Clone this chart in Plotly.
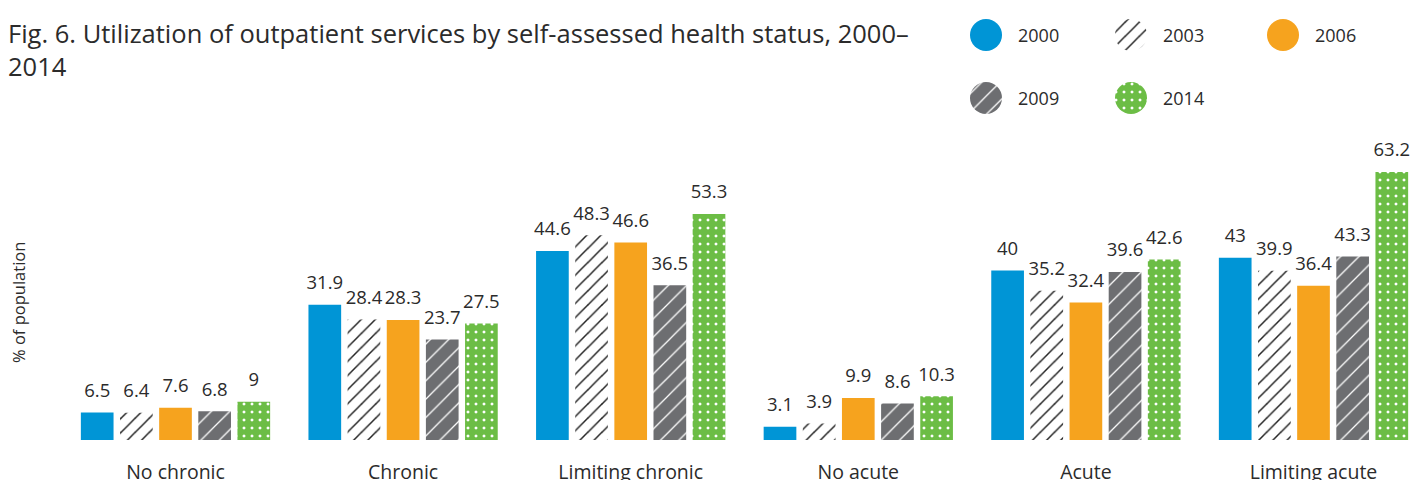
import plotly.graph_objects as go

categories = ["No chronic", "Chronic", "Limiting chronic", "No acute", "Acute", "Limiting acute"]
years = ["2000", "2003", "2006", "2009", "2014"]
v2000 = [6.5, 31.9, 44.6, 3.1, 40, 43]
v2003 = [6.4, 28.4, 48.3, 3.9, 35.2, 39.9]
v2006 = [7.6, 28.3, 46.6, 9.9, 32.4, 36.4]
v2009 = [6.8, 23.7, 36.5, 8.6, 39.6, 43.3]
v2014 = [9, 27.5, 53.3, 10.3, 42.6, 63.2]
series = [v2000, v2003, v2006, v2009, v2014]

BLUE = "#0095d6"
ORANGE = "#f6a31e"
GRAY = "#6d6e71"
GREEN = "#6cbd45"
TXT = "#2b2b2b"
FONT = "Open Sans"

markers = [
    dict(color=BLUE),
    dict(color="white", pattern=dict(shape="/", fgcolor="#222222", bgcolor="white", size=10, solidity=0.15, fillmode="replace")),
    dict(color=ORANGE),
    dict(color=GRAY, pattern=dict(shape="/", fgcolor="white", bgcolor=GRAY, size=13, solidity=0.1, fillmode="replace")),
    dict(color=GREEN, pattern=dict(shape=".", fgcolor="white", bgcolor=GREEN, size=8, solidity=0.11, fillmode="replace")),
]

# page has an 8px body margin: figure occupies page px (8..1418, 8..480)
OFF = 8
W, H = 1418 - OFF, 480 - OFF
MB = 40
PH = H - MB  # plot height in px (t=0)
PX_PER_UNIT = 4.24
ymax = PH / PX_PER_UNIT
cat_px = 227.6
first_center = 175.5
x0 = -(first_center - OFF) / cat_px
x1 = x0 + W / cat_px
BARGAP = 0.14

def px(xp):
    return (xp - OFF) / W

def py(yp):
    return (PH - (yp - OFF)) / PH

fig = go.Figure()
for name, vals, mk in zip(years, series, markers):
    m = dict(mk)
    m["line"] = dict(width=0)
    fig.add_trace(go.Bar(
        x=categories, y=vals, name=name, marker=m, offsetgroup=name,
        hoverinfo="x+y", showlegend=False, cliponaxis=False,
    ))
# value labels, grouped to sit over their bars
for name, vals in zip(years, series):
    fig.add_trace(go.Scatter(
        x=categories, y=vals, mode="text+markers", offsetgroup=name,
        marker=dict(size=16, opacity=0), text=[f"{v:g}" for v in vals],
        textposition="top center", cliponaxis=False,
        textfont=dict(family=FONT, size=18.5, color=TXT),
        hoverinfo="skip", showlegend=False,
    ))

# legend: pies as circles (support patterns)
leg = [(986, 35), (1131, 35), (1283, 35), (986, 98), (1131, 98)]
R = 16
for (cx, cy), name, mk in zip(leg, years, markers):
    m = dict(mk)
    col = m.pop("color")
    pie_marker = dict(colors=[col], line=dict(width=0))
    if "pattern" in m:
        pie_marker["pattern"] = m["pattern"]
    fig.add_trace(go.Pie(
        values=[1], labels=[name], marker=pie_marker, textinfo="none",
        hoverinfo="skip", showlegend=False, sort=False,
        domain=dict(x=[px(cx - R), px(cx + R)], y=[py(cy + R), py(cy - R)]),
    ))
    fig.add_annotation(x=px(cx + 30), y=py(cy), xref="paper", yref="paper",
                       text=name, showarrow=False, xanchor="left", yanchor="middle",
                       font=dict(family=FONT, size=18, color=TXT))

fig.add_annotation(x=px(6), y=py(14), xref="paper", yref="paper",
                   text="Fig. 6. Utilization of outpatient services by self-assessed health status, 2000–<br>2014",
                   showarrow=False, xanchor="left", yanchor="top", align="left",
                   font=dict(family=FONT, size=25.5, color=TXT))

fig.add_annotation(x=px(18), y=py(303), xref="paper", yref="paper",
                   text="% of population", textangle=-90, showarrow=False,
                   xanchor="center", yanchor="middle",
                   font=dict(family=FONT, size=16.5, color=TXT))

fig.update_layout(
    width=W, height=H,
    margin=dict(l=0, r=0, t=0, b=MB, autoexpand=False),
    paper_bgcolor="white", plot_bgcolor="white",
    barmode="group", bargap=BARGAP, bargroupgap=0.165,
    scattermode="group", scattergap=BARGAP,
    showlegend=False,
    xaxis=dict(range=[x0, x1], showgrid=False, zeroline=False, showline=False,
               ticks="", tickfont=dict(family=FONT, size=19.5, color=TXT),
               ticklabelstandoff=18, automargin=False),
    yaxis=dict(range=[0, ymax], showgrid=False, zeroline=False, showline=False,
               showticklabels=False, ticks="", automargin=False),
    font=dict(family=FONT, color=TXT),
)

fig.write_html("out.html")
